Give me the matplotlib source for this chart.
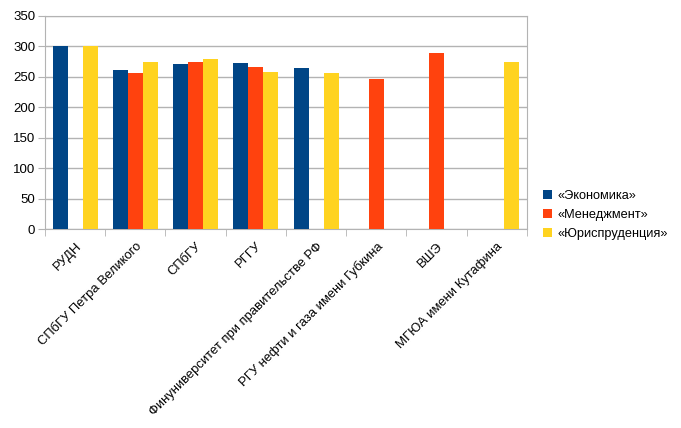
import numpy as np
import matplotlib.pyplot as plt

plt.rcParams['font.family'] = ['Liberation Sans', 'DejaVu Sans']

categories = ['РУДН', 'СПбГУ Петра Великого', 'СПбГУ', 'РГГУ',
              'Финуниверситет при правительстве РФ', 'РГУ нефти и газа имени Губкина',
              'ВШЭ', 'МГЮА имени Кутафина']
series = ['«Экономика»', '«Менеджмент»', '«Юриспруденция»']
economics = [300, 262, 271, 273, 265, np.nan, np.nan, np.nan]
management = [np.nan, 257, 274, 267, np.nan, 246, 290, np.nan]
law = [300, 274, 279, 258, 256, np.nan, np.nan, 274]
colors = ['#004586', '#ff420e', '#ffd320']

fig = plt.figure(figsize=(6.81, 4.28), dpi=100)
ax = fig.add_axes([45 / 681, 1 - 229 / 428, 482 / 681, 213 / 428])

x = np.arange(len(categories))
w = 0.25
for k, (vals, name) in enumerate(zip([economics, management, law], series)):
    ax.bar(x + (k - 1) * w, vals, width=w, color=colors[k], label=name, zorder=3)

ax.set_xlim(-0.5, len(categories) - 0.5)
ax.set_ylim(0, 350)
ax.set_yticks(np.arange(0, 351, 50))
ax.grid(axis='y', color='#b3b3b3', linewidth=1, zorder=0)
for s in ax.spines.values():
    s.set_color('#b3b3b3')

ax.set_xticks(x)
ax.set_xticklabels(categories, rotation=45, ha='right', rotation_mode='anchor', fontsize=9.4)
ax.set_xticks(np.arange(-0.5, len(categories), 1), minor=True)
ax.tick_params(axis='x', which='major', length=0, pad=8)
ax.tick_params(axis='x', which='minor', length=5, color='#b3b3b3')
ax.tick_params(axis='y', length=5, color='#b3b3b3', labelsize=9.5, pad=2)

fig.legend(loc='upper left', bbox_to_anchor=(538 / 681, 1 - 185 / 428), frameon=False,
           fontsize=9.2, handlelength=0.7, handleheight=0.7, handletextpad=0.4,
           labelspacing=0.55, borderaxespad=0)

fig.savefig('out.png', dpi=100)
